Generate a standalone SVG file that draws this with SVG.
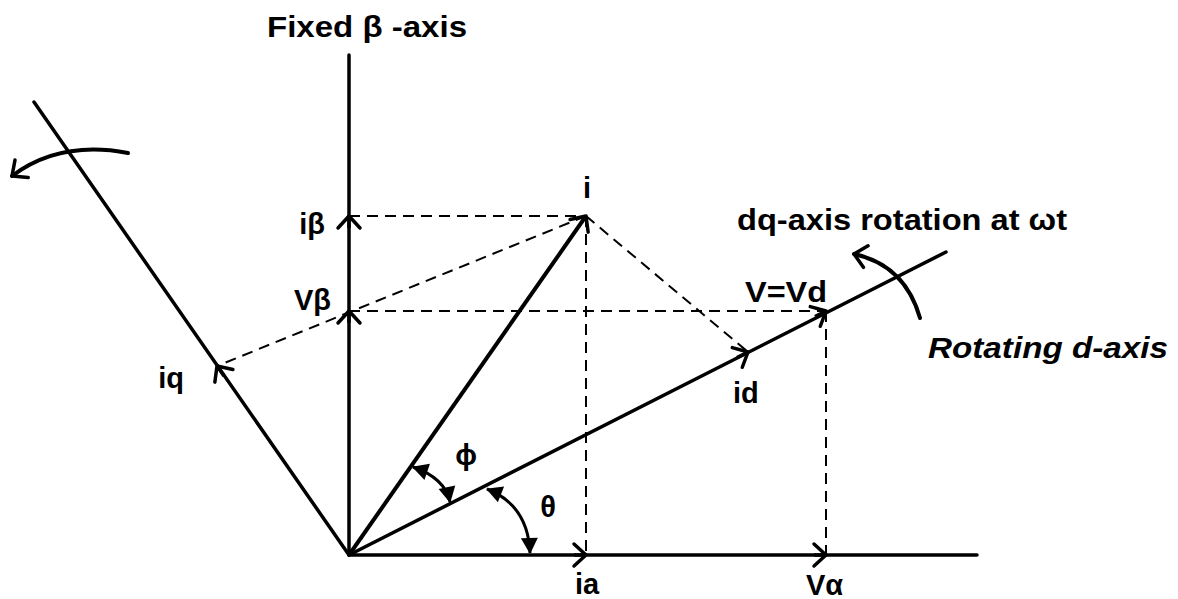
<svg xmlns="http://www.w3.org/2000/svg" width="1178" height="599" viewBox="0 0 1178 599">
<style>
.ax{fill:none;stroke:#000;stroke-width:3.5;stroke-linecap:round}
.vec{fill:none;stroke:#000;stroke-width:4;stroke-linecap:butt}
.dash{fill:none;stroke:#000;stroke-width:2;stroke-dasharray:11 7}
.tick{fill:none;stroke:#000;stroke-width:3.5}
.arc{fill:none;stroke:#000;stroke-width:3}
.rot{fill:none;stroke:#000;stroke-width:4;stroke-linecap:round}
text{font-family:"Liberation Sans",Arial,sans-serif;font-weight:bold;fill:#000}
.t{font-size:29px}
.big{font-size:30px}
.it{font-style:italic}
</style>
<defs>
<marker id="chev" markerUnits="userSpaceOnUse" markerWidth="30" markerHeight="30" viewBox="-15 -15 30 30" refX="0" refY="0" orient="auto" overflow="visible">
<path d="M-12,-11 L0,0 L-12,11" fill="none" stroke="#000" stroke-width="3.5" stroke-linecap="round" stroke-linejoin="round"/>
</marker>
<marker id="tri" markerUnits="userSpaceOnUse" markerWidth="30" markerHeight="30" viewBox="-15 -15 30 30" refX="0" refY="0" orient="auto-start-reverse" overflow="visible">
<path d="M1,0 L-15,-8.5 L-15,8.5 Z" fill="#000"/>
</marker>
</defs>

<g id="connectors">
<path class="dash" d="M349,216 L586,216"/>
<path class="dash" d="M349,311 L826,311"/>
<path class="dash" d="M586,216 L586,555"/>
<path class="dash" d="M826,311 L826,555"/>
<path class="dash" d="M586,216 L748,352"/>
<path class="dash" d="M586,216 L217,366"/>
<path class="ax" d="M349,55 L349,555"/>
<path class="ax" d="M349,555 L977,555"/>
<path class="ax" d="M349,555 L34,102"/>
<path class="ax" d="M349,555 L946,252"/>
<path class="vec" d="M349,555 L586,216" marker-end="url(#chev)"/>
<path class="tick" d="M349,228 L349,216" marker-end="url(#chev)"/>
<path class="tick" d="M349,323 L349,311" marker-end="url(#chev)"/>
<path class="tick" d="M574,555 L586,555" marker-end="url(#chev)"/>
<path class="tick" d="M814,555 L826,555" marker-end="url(#chev)"/>
<path class="tick" d="M737,357.6 L748,352" marker-end="url(#chev)"/>
<path class="tick" d="M815,316.6 L826,311" marker-end="url(#chev)"/>
<path class="tick" d="M224,376 L217,366" marker-end="url(#chev)"/>
<path class="rot" d="M128,153 Q60,140 12,176" marker-end="url(#chev)"/>
<path class="rot" d="M920,318 Q905,265 854,254" marker-end="url(#chev)"/>
<path class="arc" d="M413,467 Q445,478 450,502" marker-start="url(#tri)" marker-end="url(#tri)"/>
<path class="arc" d="M487,489 Q528,505 530,553" marker-start="url(#tri)" marker-end="url(#tri)"/>
</g>

<g id="label-fixed-beta"><text class="big" x="267" y="37" textLength="200" lengthAdjust="spacingAndGlyphs">Fixed β -axis</text></g>
<g id="label-dq"><text class="big" x="737" y="230" textLength="330" lengthAdjust="spacingAndGlyphs">dq-axis rotation at ωt</text></g>
<g id="label-rotating"><text class="t it" x="928" y="358" textLength="240" lengthAdjust="spacingAndGlyphs">Rotating d-axis</text></g>
<g id="label-vvd"><text class="t" x="745" y="302" textLength="82" lengthAdjust="spacingAndGlyphs">V=Vd</text></g>
<g id="label-i"><text class="t" x="587" y="198" text-anchor="middle">i</text></g>
<g id="label-ibeta"><text class="t" x="325" y="234" text-anchor="end">iβ</text></g>
<g id="label-vbeta"><text class="t" x="331" y="310" text-anchor="end">Vβ</text></g>
<g id="label-iq"><text class="t" x="184" y="388" text-anchor="end">iq</text></g>
<g id="label-id"><text class="t" x="733" y="403">id</text></g>
<g id="label-ia"><text class="t" x="575" y="594">ia</text></g>
<g id="label-valpha"><text class="t" x="806" y="595">Vα</text></g>
<g id="label-phi"><text class="t" x="466" y="465" text-anchor="middle">ϕ</text></g>
<g id="label-theta"><text class="t" x="548" y="517" text-anchor="middle">θ</text></g>
</svg>
